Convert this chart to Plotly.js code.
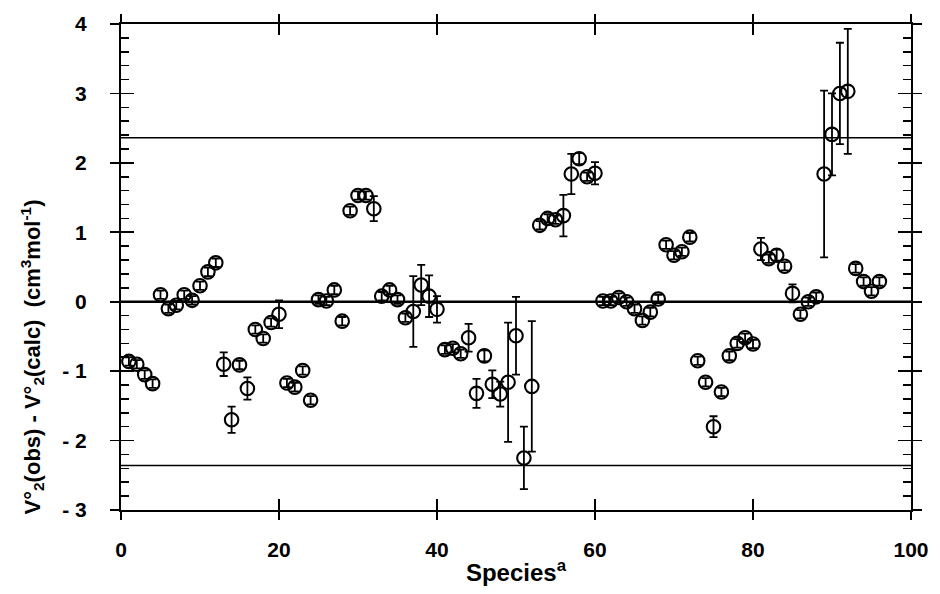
<!DOCTYPE html>
<html>
<head>
<meta charset="utf-8">
<script src="https://cdn.plot.ly/plotly-3.0.1.min.js"></script>
<style>
html,body{margin:0;padding:0;background:#fff;}
#chart{width:940px;height:594px;}
</style>
</head>
<body>
<div id="chart"></div>
<script>
const species = [1,2,3,4,5,6,7,8,9,10,11,12,13,14,15,16,17,18,19,20,
  21,22,23,24,25,26,27,28,29,30,31,32,33,34,35,36,37,38,39,40,
  41,42,43,44,45,46,47,48,49,50,51,52,53,54,55,56,57,58,59,60,
  61,62,63,64,65,66,67,68,69,70,71,72,73,74,75,76,77,78,79,80,
  81,82,83,84,85,86,87,88,89,90,91,92,93,94,95,96];
const deltaV = [-0.86,-0.90,-1.05,-1.18,0.10,-0.10,-0.05,0.10,0.02,0.23,
  0.43,0.56,-0.90,-1.70,-0.91,-1.25,-0.40,-0.53,-0.30,-0.18,
  -1.17,-1.23,-0.99,-1.42,0.03,0.01,0.17,-0.28,1.31,1.53,
  1.53,1.34,0.08,0.17,0.03,-0.23,-0.14,0.24,0.08,-0.11,
  -0.69,-0.67,-0.75,-0.52,-1.32,-0.78,-1.19,-1.33,-1.16,-0.49,
  -2.25,-1.22,1.10,1.20,1.18,1.24,1.84,2.06,1.80,1.85,
  0.01,0.01,0.06,0.00,-0.10,-0.27,-0.15,0.04,0.82,0.67,
  0.72,0.93,-0.85,-1.16,-1.80,-1.30,-0.78,-0.60,-0.52,-0.61,
  0.76,0.62,0.67,0.51,0.12,-0.18,0.00,0.07,1.84,2.41,
  3.00,3.03,0.48,0.29,0.15,0.29];
const errV = [0.06,0.06,0.06,0.06,0.06,0.06,0.06,0.06,0.06,0.06,
  0.06,0.06,0.17,0.19,0.06,0.16,0.06,0.06,0.06,0.20,
  0.06,0.06,0.06,0.06,0.06,0.06,0.06,0.06,0.06,0.06,
  0.06,0.18,0.06,0.06,0.06,0.06,0.51,0.29,0.30,0.19,
  0.06,0.06,0.06,0.20,0.21,0.08,0.20,0.18,0.86,0.56,
  0.45,0.94,0.06,0.06,0.06,0.30,0.29,0.08,0.06,0.16,
  0.06,0.06,0.06,0.06,0.06,0.06,0.06,0.06,0.06,0.06,
  0.06,0.06,0.06,0.06,0.15,0.06,0.06,0.06,0.06,0.06,
  0.16,0.06,0.08,0.06,0.13,0.06,0.06,0.06,1.20,0.59,
  0.73,0.90,0.06,0.06,0.06,0.06];
const refLines = [2.36, -2.36];
const yRange = [-3, 4];
const xRange = [0, 100];
const yLabelAlias = {'\u22121': '- 1', '\u22122': '- 2', '\u22123': '- 3'};

const font = 'Liberation Sans, Arial, Helvetica, sans-serif';

const traces = [
  {
    x: species, y: deltaV, type: 'scatter', mode: 'markers',
    marker: {symbol: 'circle-open', size: 13.5, color: '#000', line: {width: 2.1, color: '#000'}},
    error_y: {type: 'data', array: errV, visible: true, color: '#000', thickness: 1.8, width: 4},
    hoverinfo: 'x+y', showlegend: false
  },
  {x: [null], y: [null], xaxis: 'x2', yaxis: 'y2', type: 'scatter', mode: 'markers', showlegend: false, hoverinfo: 'skip'}
];

const shapes = refLines.map(v => ({
  type: 'line', xref: 'paper', x0: 0, x1: 1, yref: 'y', y0: v, y1: v,
  line: {color: '#000', width: 1.5}
}));
shapes.push({type: 'line', xref: 'paper', x0: 0, x1: 1, yref: 'y', y0: 0, y1: 0, line: {color: '#000', width: 2.6}});

const layout = {
  width: 940, height: 594,
  margin: {l: 121, r: 29, t: 24, b: 84, pad: 0},
  paper_bgcolor: '#fff', plot_bgcolor: '#fff',
  font: {family: font, color: '#000'},
  showlegend: false,
  xaxis: {
    range: xRange, showgrid: false, zeroline: false,
    showline: true, linecolor: '#000', linewidth: 2, mirror: 'allticks',
    ticks: 'inside', ticklen: 11, tickwidth: 1.6, tickcolor: '#000',
    tickmode: 'linear', tick0: 0, dtick: 20,
    ticklabelstandoff: 20,
    tickfont: {family: font, size: 21, color: '#000', weight: 'bold'},
    title: {text: 'Species<sup>a</sup>', font: {family: font, size: 24, color: '#000', weight: 'bold'}, standoff: 4}
  },
  yaxis: {
    range: yRange, showgrid: false, zeroline: false,
    showline: true, linecolor: '#000', linewidth: 2, mirror: 'allticks',
    ticks: 'inside', ticklen: 13, tickwidth: 1.6, tickcolor: '#000',
    tickmode: 'linear', tick0: -3, dtick: 1,
    labelalias: yLabelAlias,
    ticklabelstandoff: 28,
    tickfont: {family: font, size: 21, color: '#000', weight: 'bold'},
    minor: {tickmode: 'linear', tick0: -3, dtick: 0.2, ticks: 'inside', ticklen: 8, tickwidth: 1.6, tickcolor: '#000'}
  },
  xaxis2: {
    overlaying: 'x', anchor: 'y2', range: xRange, showgrid: false, zeroline: false,
    showline: false, mirror: 'ticks', ticks: 'outside', ticklen: 9, tickwidth: 1.6, tickcolor: '#000',
    tickmode: 'linear', tick0: 0, dtick: 20, showticklabels: false
  },
  yaxis2: {
    overlaying: 'y', anchor: 'x2', range: yRange, showgrid: false, zeroline: false,
    showline: false, mirror: 'ticks', ticks: 'outside', ticklen: 10, tickwidth: 1.6, tickcolor: '#000',
    tickmode: 'linear', tick0: -3, dtick: 1, showticklabels: false
  },
  shapes: shapes,
  annotations: [{
    xref: 'paper', yref: 'paper', x: -0.112, y: 0.315, xanchor: 'center', yanchor: 'middle',
    textangle: -90, showarrow: false,
    text: 'V°<sub>2</sub>(obs) - V°<sub>2</sub>(calc)  (cm<sup>3</sup>mol<sup>-1</sup>)',
    font: {family: font, size: 22, color: '#000', weight: 'bold'}
  }]
};

Plotly.newPlot('chart', traces, layout, {displayModeBar: false, staticPlot: true});
</script>
</body>
</html>
